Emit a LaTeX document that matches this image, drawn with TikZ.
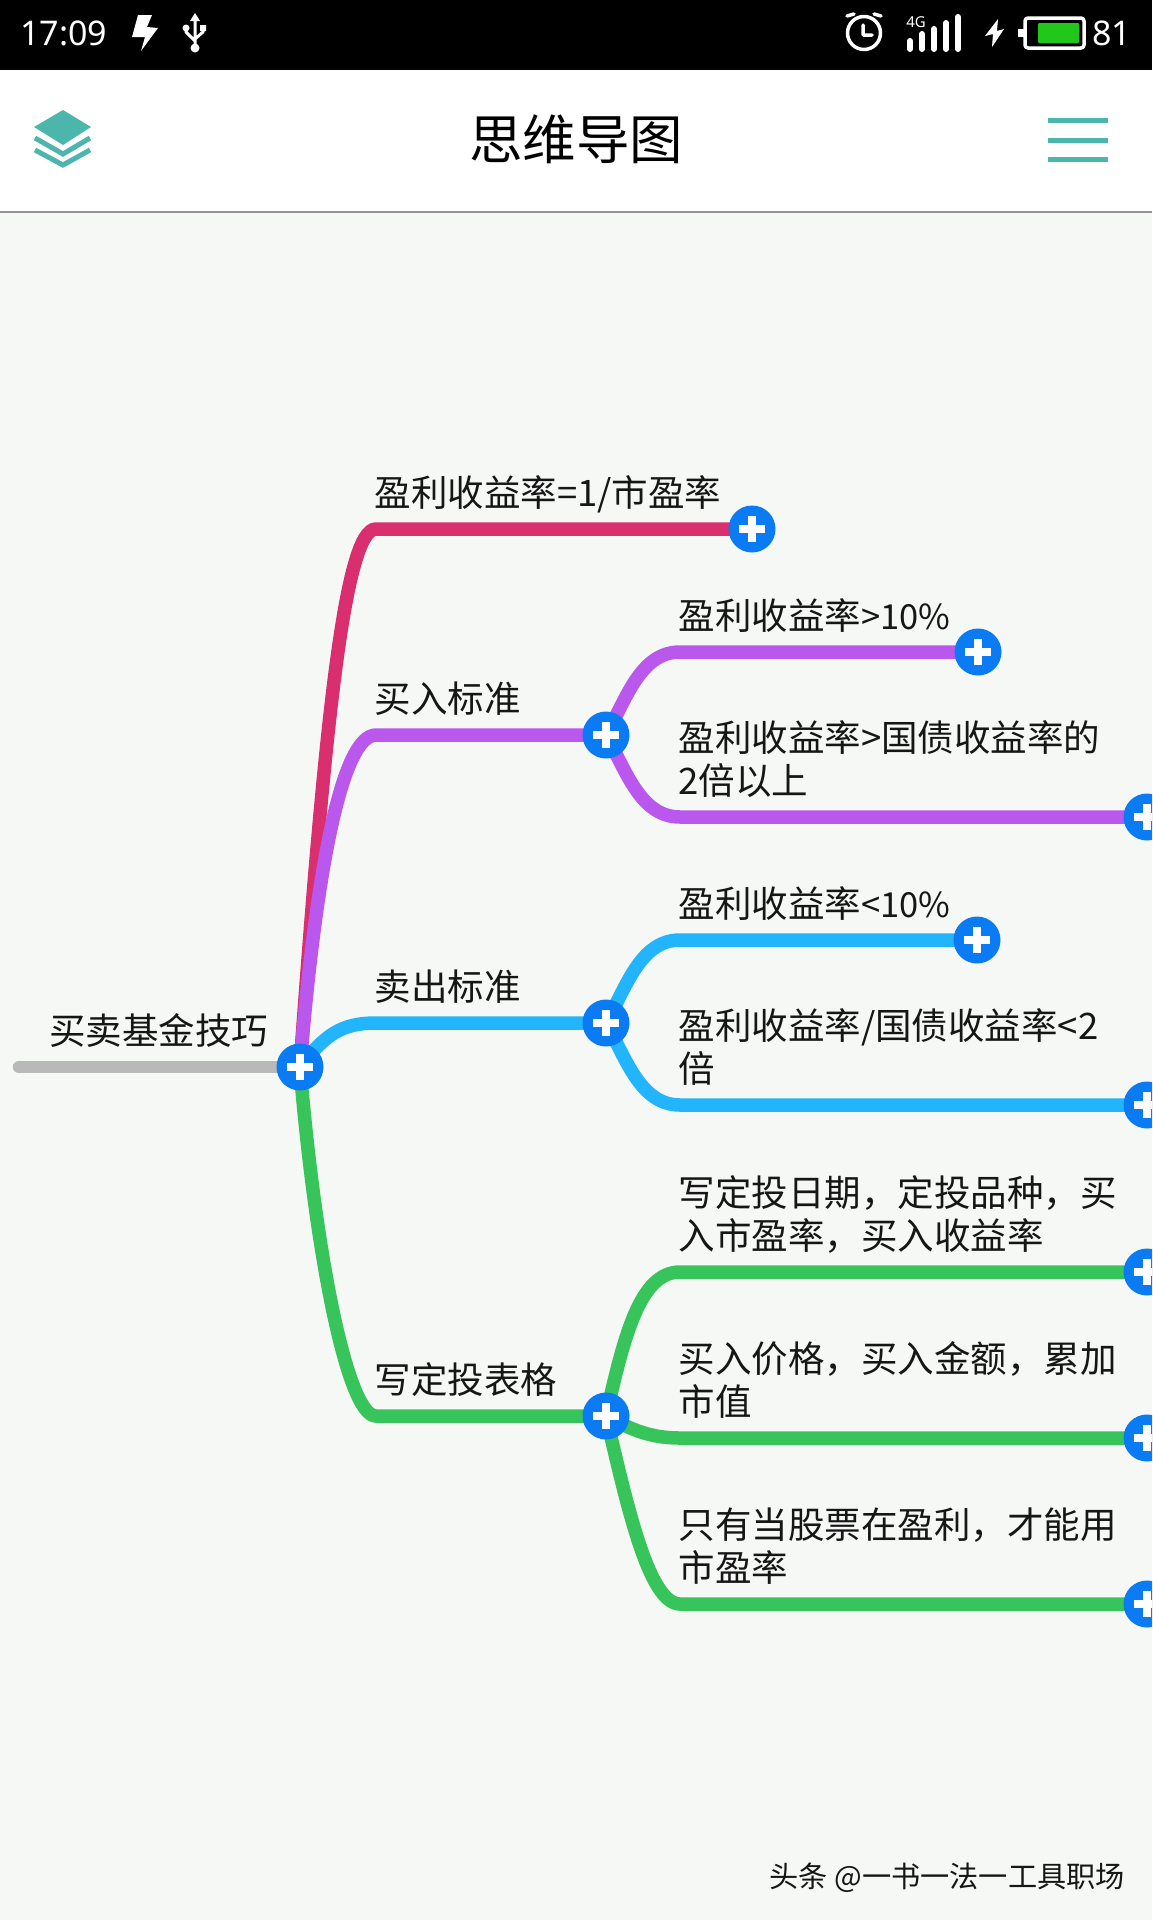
\documentclass[tikz,border=0pt]{standalone}
\usepackage{fontspec}
\setmainfont{Noto Sans CJK SC}
\newfontfamily\statusfont{Noto Sans}
\usetikzlibrary{positioning,backgrounds}

\definecolor{rosebranch}{HTML}{DA2F6E}
\definecolor{violetbranch}{HTML}{BA58EE}
\definecolor{skybranch}{HTML}{22B4FC}
\definecolor{greenbranch}{HTML}{36C45B}
\definecolor{greybranch}{HTML}{B9B9B9}
\definecolor{plusblue}{HTML}{0A7BF2}
\definecolor{canvasgrey}{HTML}{F6F8F6}
\definecolor{tealicon}{HTML}{4DB6AC}
\definecolor{batterygreen}{HTML}{22C71C}
\definecolor{inkblack}{HTML}{161616}
\newcommand{\tightlatin}{\fontsize{34.5}{43}\selectfont}

\begin{document}
\begin{tikzpicture}[x=1pt,y=-1pt,line cap=round,line join=round,
  node distance=23pt and -1.5pt]
  \tikzstyle{branch}=[line width=13.5pt,line cap=butt]
  \tikzstyle{plus}=[circle,fill=plusblue,minimum size=47pt,inner sep=0pt,outer sep=0pt,
    path picture={\draw[white,line width=8pt,line cap=butt]
      ([xshift=-13pt]path picture bounding box.center) -- ([xshift=13pt]path picture bounding box.center)
      ([yshift=-13pt]path picture bounding box.center) -- ([yshift=13pt]path picture bounding box.center);}]
  \tikzstyle{topic}=[inner sep=0pt,outer sep=0pt,text depth=0pt,align=left,text=inkblack,
    font=\fontsize{36.5}{43}\selectfont]
  \path[use as bounding box,clip] (0,0) rectangle (1152,1920);

  % hubs and ends
  \node[plus] (root) at (300,1067) {};
  \node[plus] (p1) at (752,529) {};
  \node[plus] (p2) at (606,735) {};
  \node[plus] (p3) at (606,1023) {};
  \node[plus] (p4) at (606,1416) {};
  \node[plus] (p21) at (978,652) {};
  \node[plus] (p22) at (1147,817) {};
  \node[plus] (p31) at (977,940) {};
  \node[plus] (p32) at (1147,1105) {};
  \node[plus] (p41) at (1147,1272) {};
  \node[plus] (p42) at (1147,1438) {};
  \node[plus] (p43) at (1147,1604) {};

  \coordinate (start) at (19,1067);
  \coordinate (k1) at (376,529);
  \coordinate (k2) at (376,735);
  \coordinate (k3) at (376,1023);
  \coordinate (k4) at (376,1416);
  \coordinate (k21) at (680,652);
  \coordinate (k22) at (680,817);
  \coordinate (k31) at (680,940);
  \coordinate (k32) at (680,1105);
  \coordinate (k41) at (680,1272);
  \coordinate (k42) at (680,1438);
  \coordinate (k43) at (680,1604);

  % panels and branches go under the nodes
  \begin{scope}[on background layer]
    \fill[canvasgrey] (0,0) rectangle (1152,1920);
    \fill[white] (0,70) rectangle (1152,212);
    \fill[black] (0,0) rectangle (1152,70);
    \draw[greybranch!80!black,line width=2pt,line cap=butt] (0,212) -- (1152,212);

    \draw[greybranch,line width=12.5pt,line cap=round] (start) -- (root.center);
    \draw[branch,rosebranch] (root.center) .. controls +(25,-347) and +(-31,0) .. (k1) -- (p1.center);
    \draw[branch,violetbranch] (root.center) .. controls +(16,-197) and +(-34,0) .. (k2) -- (p2.center);
    \draw[branch,violetbranch] (p2.center) .. controls +(20,-35) and +(-40,0) .. (k21) -- (p21.center);
    \draw[branch,violetbranch] (p2.center) .. controls +(20,35) and +(-40,0) .. (k22) -- (p22.center);
    \draw[branch,skybranch] (root.center) .. controls +(25,-32) and +(-35,0) .. (k3) -- (p3.center);
    \draw[branch,skybranch] (p3.center) .. controls +(20,-35) and +(-40,0) .. (k31) -- (p31.center);
    \draw[branch,skybranch] (p3.center) .. controls +(20,35) and +(-40,0) .. (k32) -- (p32.center);
    \draw[branch,greenbranch] (root.center) .. controls +(15,183) and +(-29,0) .. (k4) -- (p4.center);
    \draw[branch,greenbranch] (p4.center) .. controls +(18,-80) and +(-40,0) .. (k41) -- (p41.center);
    \draw[branch,greenbranch] (p4.center) .. controls +(20,10) and +(-35,0) .. (k42) -- (p42.center);
    \draw[branch,greenbranch] (p4.center) .. controls +(20,84) and +(-32,0) .. (k43) -- (p43.center);
  \end{scope}

  % topics
  \node[topic] (t0) [above right=23pt and 30pt of start] {买卖基金技巧};
  \node[topic] (t1) [above right=of k1] {盈利收益率=1/市盈率};
  \node[topic] (t2) [above right=of k2] {买入标准};
  \node[topic] (t3) [above right=of k3] {卖出标准};
  \node[topic] (t4) [above right=of k4] {写定投表格};
  \node[topic] (t21) [above right=of k21] {盈利收益率{\tightlatin>10\%}};
  \node[topic] (t22) [above right=of k22] {盈利收益率>国债收益率的\\2倍以上};
  \node[topic] (t31) [above right=of k31] {盈利收益率{\tightlatin<10\%}};
  \node[topic] (t32) [above right=of k32] {盈利收益率/国债收益率<2\\倍};
  \node[topic] (t41) [above right=of k41] {写定投日期，定投品种，买\\入市盈率，买入收益率};
  \node[topic] (t42) [above right=of k42] {买入价格，买入金额，累加\\市值};
  \node[topic] (t43) [above right=of k43] {只有当股票在盈利，才能用\\市盈率};

  \node[text=black,font=\fontsize{53.5}{60}\selectfont] (title) at (576,139) {思维导图};
  \node[text=inkblack,font=\fontsize{29.2}{32}\selectfont,anchor=east,inner sep=0pt] (mark) at (1125,1878) {头条 @一书一法一工具职场};

  % status bar
  \node[text=white,font=\statusfont\fontsize{34}{40}\selectfont,anchor=west,inner sep=0pt] (clock) at (20,33) {17:09};
  \node[text=white,font=\statusfont\fontsize{34}{40}\selectfont,anchor=west,inner sep=0pt] (level) at (1092,33) {81};
  \node[text=white,font=\statusfont\bfseries\fontsize{15}{16}\selectfont,inner sep=0pt] (net) at (916,22) {4G};
  \fill[white] (138,15) -- (152,15) -- (147,27) -- (158,28) -- (141,51) -- (145,37) -- (132,37) -- cycle;
  \draw[white,line width=3pt] (195,17) -- (195,48) (186,28) -- (186,32) -- (195,41) (203,28) -- (203,32) -- (195,39);
  \fill[white] (195,13) -- (200,21) -- (190,21) -- cycle (195,48) circle (4.5) (186,28) circle (3.5) (200,25) rectangle (206,31);
  \draw[white,line width=3.5pt] (864,33) circle (16.5) (863,25) -- (863,35) -- (872,35)
    (847,16) -- (854,14) (881,16) -- (874,14);
  \foreach \xbar/\ytop in {910/41,922/34,934/29,946/23,958/17}
    \draw[white,line width=6pt] (\xbar,\ytop) -- (\xbar,49);
  \fill[white] (998,19) -- (985,36) -- (993,34) -- (992,47) -- (1004,29) -- (997,31) -- cycle;
  \draw[white,line width=3.5pt,rounded corners=3pt] (1025,18) rectangle (1084,48);
  \fill[white] (1018,29) rectangle (1024,37);
  \fill[batterygreen,rounded corners=1pt] (1038,23) rectangle (1079,43);

  % toolbar icons
  \fill[tealicon] (63,110) -- (91,127) -- (63,145) -- (34,127) -- cycle;
  \draw[tealicon,line width=5pt,line cap=butt,line join=miter] (35,138) -- (63,154) -- (90,138);
  \draw[tealicon,line width=5pt,line cap=butt,line join=miter] (35,150) -- (63,165) -- (90,150);
  \foreach \ybar in {120,140,159}
    \draw[tealicon,line width=5pt,line cap=butt] (1048,\ybar) -- (1108,\ybar);
\end{tikzpicture}
\end{document}
